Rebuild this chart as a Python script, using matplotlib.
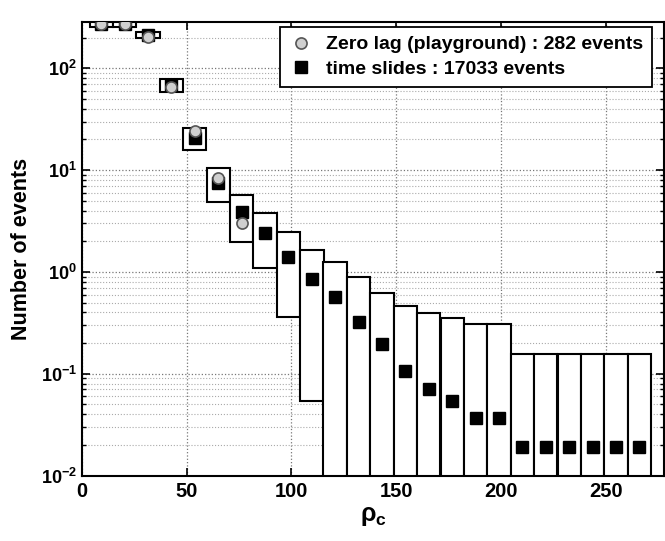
import matplotlib
matplotlib.use('Agg')
import matplotlib.pyplot as plt
import numpy as np
from matplotlib.ticker import LogLocator, NullFormatter, MultipleLocator

plt.rcParams['font.family'] = ['Liberation Sans', 'DejaVu Sans']
plt.rcParams['font.weight'] = 'bold'
plt.rcParams['mathtext.fontset'] = 'custom'
plt.rcParams['mathtext.rm'] = 'Liberation Sans:bold'
plt.rcParams['mathtext.it'] = 'Liberation Sans:bold'
plt.rcParams['mathtext.bf'] = 'Liberation Sans:bold'

# bin centres (rho_c)
rho = [9.3, 20.4, 31.6, 42.8, 53.9, 65.1, 76.3, 87.4, 98.6, 109.8, 120.9, 132.1,
       143.3, 154.4, 165.6, 176.8, 187.9, 199.1, 210.3, 221.4, 232.6, 243.8, 254.9, 266.1]

# time slides: mean and box extent (lower, upper); 0 = below the axis
ts_mean = [275, 272, 211, 68, 20.7, 7.5, 3.85, 2.42, 1.40, 0.86, 0.566, 0.322,
           0.196, 0.106, 0.0708, 0.054, 0.0367, 0.0367, 0.019, 0.019, 0.019, 0.019, 0.019, 0.019]
ts_lo = [255, 255, 199, 58.5, 15.7, 4.86, 1.97, 1.09, 0.361, 0.0543, 0, 0,
         0, 0, 0, 0, 0, 0, 0, 0, 0, 0, 0, 0]
ts_hi = [300, 300, 228, 78.5, 25.9, 10.5, 5.69, 3.79, 2.47, 1.65, 1.25, 0.891,
         0.621, 0.462, 0.395, 0.352, 0.308, 0.308, 0.156, 0.156, 0.156, 0.156, 0.156, 0.156]

# zero lag (playground)
zl_rho = [9.3, 20.4, 31.6, 42.8, 53.9, 65.1, 76.3]
zl_val = [275, 275, 203, 65.5, 24.2, 8.4, 3.0]

bin_width = 11.16

fig = plt.figure(figsize=(6.65, 5.41), dpi=100)
ax = fig.add_axes([0.123, 0.121, 0.876, 0.8375])
ax.set_yscale('log')

lo = np.array(ts_lo, dtype=float)
lo[lo <= 0] = 1e-4
hi = np.array(ts_hi, dtype=float)
ax.bar(rho, hi - lo, bottom=lo, width=bin_width, facecolor='white',
       edgecolor='black', linewidth=1.5, zorder=2)

ax.plot(rho, ts_mean, linestyle='none', marker='s', markersize=8,
        color='black', zorder=3, label='time slides : 17033 events')
ax.plot(zl_rho, zl_val, linestyle='none', marker='o', markersize=8,
        markerfacecolor='#d0d0d0', markeredgecolor='#555555', markeredgewidth=1.2,
        zorder=4, label='Zero lag (playground) : 282 events')

ax.set_xlim(0, 278)
ax.set_ylim(0.01, 282)
ax.xaxis.set_major_locator(MultipleLocator(50))
ax.yaxis.set_major_locator(LogLocator(base=10))
ax.yaxis.set_minor_locator(LogLocator(base=10, subs=np.arange(2, 10)))
ax.yaxis.set_minor_formatter(NullFormatter())

ax.grid(True, which='major', axis='both', linestyle=':', color='#777777', linewidth=0.9, zorder=0)
ax.grid(True, which='minor', axis='y', linestyle=':', color='#aaaaaa', linewidth=0.8, zorder=0)
ax.set_axisbelow(True)

ax.tick_params(which='both', direction='in', top=True, right=True)
ax.tick_params(which='major', length=6, width=1.2)
ax.tick_params(which='minor', length=3, width=1)
ax.tick_params(axis='x', labelsize=14.5, pad=5)
ax.tick_params(axis='y', labelsize=13)
for s in ax.spines.values():
    s.set_linewidth(1.5)

ax.set_xlabel(r'$\rho_c$', fontsize=18, fontweight='bold', labelpad=2)
ax.set_ylabel('Number of events', fontsize=15.5, fontweight='bold', labelpad=6)

handles, labels = ax.get_legend_handles_labels()
leg = ax.legend(handles[::-1], labels[::-1], loc='upper right',
                bbox_to_anchor=(0.980, 0.950), bbox_transform=fig.transFigure,
                borderaxespad=0, fancybox=False, framealpha=1, edgecolor='black',
                prop={'size': 14, 'weight': 'bold'}, handlelength=1.2,
                handletextpad=0.7, borderpad=0.45, labelspacing=0.35)
leg.get_frame().set_linewidth(1.3)

fig.savefig('out.png', dpi=100)
